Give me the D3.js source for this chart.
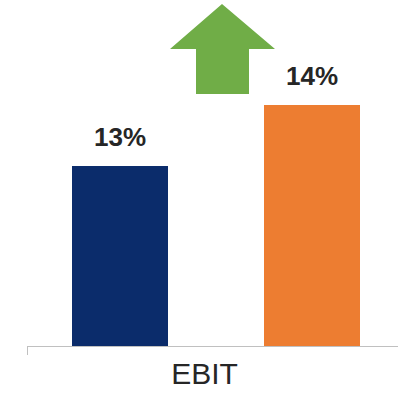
<!DOCTYPE html>
<html>
<head>
<meta charset="utf-8">
<script src="https://cdn.jsdelivr.net/npm/d3@7"></script>
<style>
  html, body { margin: 0; padding: 0; background: #ffffff; }
  svg { display: block; }
</style>
</head>
<body>
<svg id="chart" width="398" height="393"></svg>
<script>
// EBIT margin, two periods
const series = ["Prior", "Current"];
const values = [13, 14];
const valueLabels = ["13%", "14%"];
const category = "EBIT";
const colors = ["#0b2c6b", "#ed7d31"];

const svg = d3.select("#chart");

const baseY = 346;
const x = d3.scaleBand().domain(series).range([24, 408]).paddingInner(0.5).paddingOuter(0.25);
const y = d3.scaleLinear().domain([10.05, 14]).range([baseY, 105]);

// bars
svg.selectAll("rect.bar")
  .data(values)
  .join("rect")
  .attr("class", "bar")
  .attr("x", (d, i) => x(series[i]))
  .attr("width", x.bandwidth())
  .attr("y", d => y(d))
  .attr("height", d => baseY - y(d))
  .attr("fill", (d, i) => colors[i]);

// value labels
svg.selectAll("text.val")
  .data(values)
  .join("text")
  .attr("class", "val")
  .attr("x", (d, i) => x(series[i]) + x.bandwidth() / 2)
  .attr("y", d => y(d) - 20.5)
  .attr("text-anchor", "middle")
  .attr("font-family", "'Liberation Sans', Arial, sans-serif")
  .attr("font-weight", "bold")
  .attr("font-size", 26)
  .attr("fill", "#262626")
  .text((d, i) => valueLabels[i]);

// category axis
svg.append("line")
  .attr("x1", 27).attr("x2", 398)
  .attr("y1", baseY + 0.5).attr("y2", baseY + 0.5)
  .attr("stroke", "#c0c0c0").attr("stroke-width", 1);
svg.append("line")
  .attr("x1", 27.5).attr("x2", 27.5)
  .attr("y1", baseY).attr("y2", baseY + 9)
  .attr("stroke", "#c0c0c0").attr("stroke-width", 1);

svg.append("text")
  .attr("x", 204.5)
  .attr("y", 384)
  .attr("text-anchor", "middle")
  .attr("font-family", "'Liberation Sans', Arial, sans-serif")
  .attr("font-size", 30)
  .attr("fill", "#262626")
  .text(category);

// growth arrow
const arrow = [[222, 4], [275, 49], [249, 49], [249, 94], [196, 94], [196, 49], [170, 49]];
svg.append("path")
  .attr("d", d3.line()(arrow) + "Z")
  .attr("fill", "#70ad47");
</script>
</body>
</html>
